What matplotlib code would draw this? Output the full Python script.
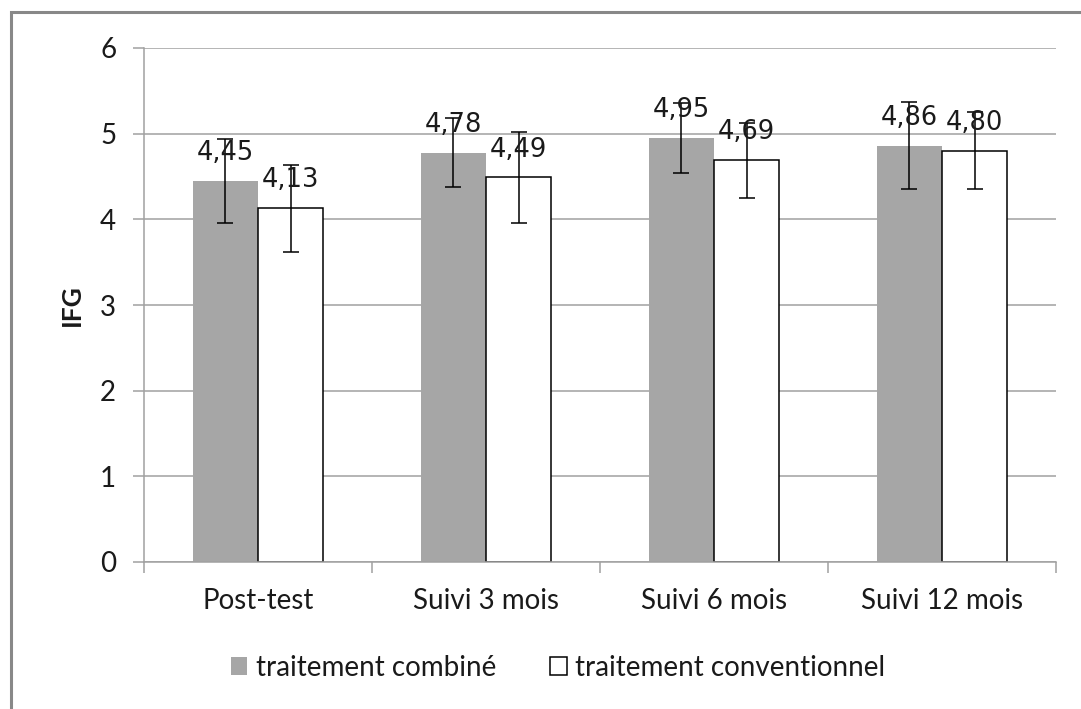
import matplotlib
matplotlib.use("Agg")
import matplotlib.pyplot as plt
import numpy as np
from matplotlib.patches import Rectangle

categories = ["Post-test", "Suivi 3 mois", "Suivi 6 mois", "Suivi 12 mois"]
series_names = ["traitement combiné", "traitement conventionnel"]
combined = [4.45, 4.78, 4.95, 4.86]
conventional = [4.13, 4.49, 4.69, 4.80]
combined_err = [0.49, 0.40, 0.41, 0.51]
conventional_err = [0.51, 0.53, 0.44, 0.45]
value_labels_combined = ["4,45", "4,78", "4,95", "4,86"]
value_labels_conventional = ["4,13", "4,49", "4,69", "4,80"]
y_ticks = [0, 1, 2, 3, 4, 5, 6]

plt.rcParams['font.family'] = ['Lato', 'DejaVu Sans']

W, H = 1081, 709
fig = plt.figure(figsize=(W / 100, H / 100), dpi=100)
ax = fig.add_axes([144 / W, 1 - 562 / H, (1056 - 144) / W, (562 - 48) / H])

x = np.arange(len(categories))
bw = 1 / 3.5
grid_c = "#A0A0A0"
txt_c = "#1a1a1a"

ax.bar(x - bw / 2, combined, bw, color="#A6A6A6", edgecolor="none", zorder=2,
       label=series_names[0])
ax.bar(x + bw / 2, conventional, bw, color="white", edgecolor="black", linewidth=1.1,
       zorder=2, label=series_names[1])
ax.errorbar(x - bw / 2, combined, yerr=combined_err, fmt="none", ecolor="black",
            elinewidth=1.1, capsize=6, capthick=1.1, zorder=3)
ax.errorbar(x + bw / 2, conventional, yerr=conventional_err, fmt="none", ecolor="black",
            elinewidth=1.1, capsize=6, capthick=1.1, zorder=3)

for xi, v, lab in zip(x - bw / 2, combined, value_labels_combined):
    ax.annotate(lab, (xi, v), xytext=(0, 15), textcoords="offset points",
                ha="center", va="baseline", fontsize=18.5, family="DejaVu Sans",
                color=txt_c, zorder=4)
for xi, v, lab in zip(x + bw / 2, conventional, value_labels_conventional):
    ax.annotate(lab, (xi, v), xytext=(0, 15), textcoords="offset points",
                ha="center", va="baseline", fontsize=18.5, family="DejaVu Sans",
                color=txt_c, zorder=4)

ax.set_xlim(-0.5, len(categories) - 0.5)
ax.set_ylim(0, 6)
ax.set_yticks(y_ticks)
ax.set_yticklabels([str(t) for t in y_ticks])
ax.yaxis.grid(True, color=grid_c, linewidth=1.1, zorder=0)
ax.set_axisbelow(True)

ax.set_xticks(np.arange(len(categories) + 1) - 0.5)
ax.set_xticklabels([])
ax.set_xticks(x, minor=True)
ax.set_xticklabels(categories, minor=True)
ax.tick_params(axis="x", which="major", length=8, width=1.1, color=grid_c, direction="out")
ax.tick_params(axis="x", which="minor", length=0, pad=19, labelsize=20, labelcolor=txt_c)
ax.tick_params(axis="y", length=8, width=1.1, color=grid_c, pad=12, labelsize=20,
               labelcolor=txt_c)

for s in ["top", "right"]:
    ax.spines[s].set_visible(False)
for s in ["left", "bottom"]:
    ax.spines[s].set_color(grid_c)
    ax.spines[s].set_linewidth(1.1)

ax.set_ylabel("IFG", fontsize=19, fontweight="bold", labelpad=12, color=txt_c)

fig.legend(loc="center", bbox_to_anchor=(558 / W, 1 - 668 / H), ncol=2, frameon=False,
           fontsize=20, handlelength=0.6, handleheight=0.6, handletextpad=0.3,
           columnspacing=1.95, labelcolor=txt_c)

fig.patches.append(Rectangle((11 / W, -0.1), 1.2, (1 - 12 / H) + 0.1,
                             transform=fig.transFigure, fill=False,
                             edgecolor="#888888", linewidth=2.2))

fig.savefig("out.png", dpi=100)
